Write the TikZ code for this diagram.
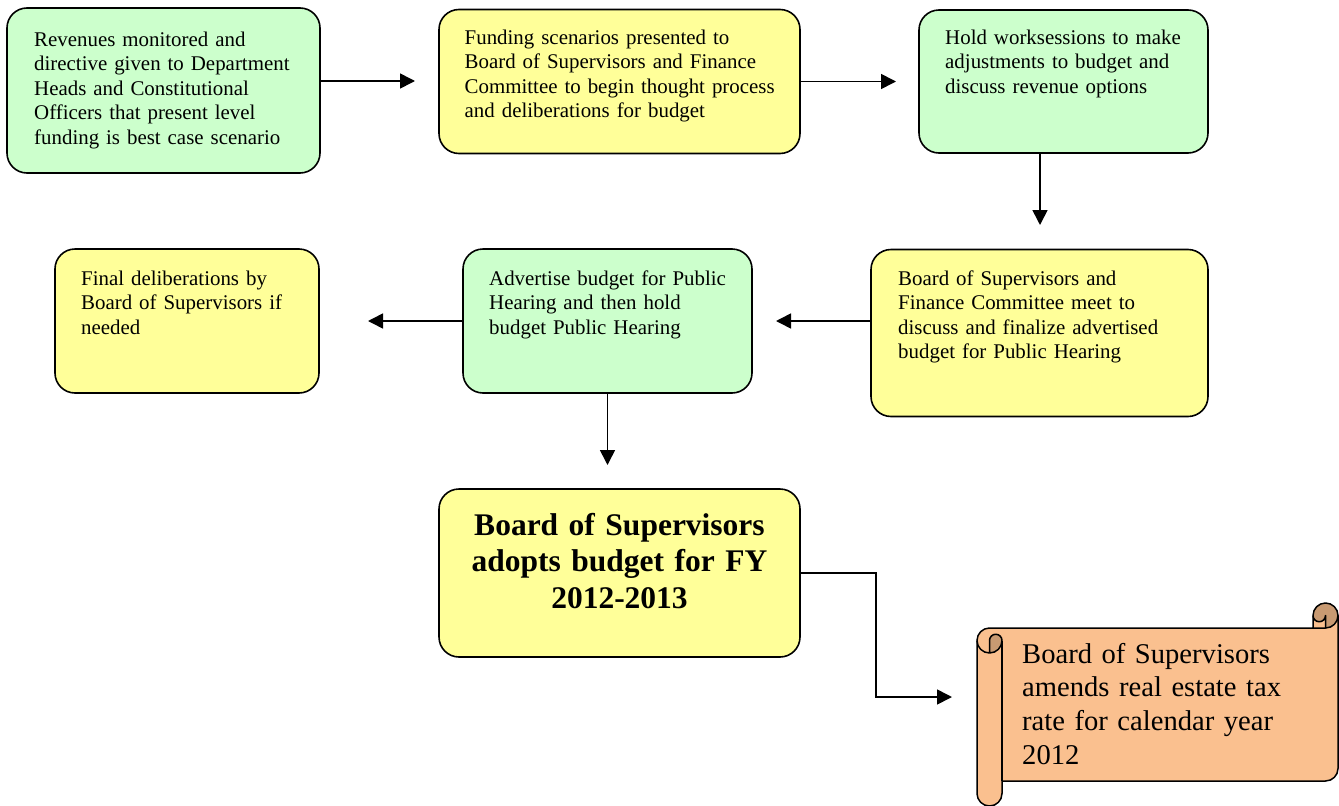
\documentclass[tikz,border=0pt]{standalone}
\usepackage{fontspec}
\setmainfont{Liberation Serif}
\usetikzlibrary{arrows.meta,calc}
\definecolor{boxgreen}{HTML}{CCFFCC}
\definecolor{boxyellow}{HTML}{FFFF99}
\definecolor{scrolltan}{HTML}{FAC08F}
\definecolor{scrolldark}{HTML}{C89A72}
\tikzset{
  stagebox/.style={draw=black, line width=1.6pt, rounded corners=20pt, inner sep=0pt},
  greenbox/.style={stagebox, fill=boxgreen},
  yellowbox/.style={stagebox, fill=boxyellow},
  smalltext/.style={inner sep=0pt, anchor=base west, text width=330pt, align=left,
    font=\fontsize{20.9}{24.5}\selectfont},
  bigtext/.style={inner sep=0pt, anchor=base, text width=340pt, align=center,
    font=\fontsize{31.5}{36.7}\selectfont\bfseries},
  scrolltext/.style={inner sep=0pt, anchor=base west, text width=310pt, align=left,
    font=\fontsize{28.6}{33.6}\selectfont},
  flow/.style={draw=black, line width=1.6pt, -{Triangle[length=15pt,width=15pt]}},
  scrollline/.style={draw=black, line width=1.5pt, line join=round}
}
\begin{document}
\begin{tikzpicture}[x=1pt,y=-1pt]
\useasboundingbox (0,0) rectangle (1339,806);

% boxes
\node[greenbox, minimum width=313pt, minimum height=165pt] (b1) at (163.5,90.5) {};
\node[yellowbox, minimum width=361pt, minimum height=144pt] (b2) at (619.5,81.5) {};
\node[greenbox, minimum width=289pt, minimum height=143pt] (b3) at (1063.5,81.5) {};
\node[yellowbox, minimum width=337pt, minimum height=167pt] (b4) at (1039.5,333) {};
\node[greenbox, minimum width=289pt, minimum height=144pt] (b5) at (607.5,321) {};
\node[yellowbox, minimum width=264pt, minimum height=144pt] (b6) at (187,321) {};
\node[yellowbox, minimum width=361pt, minimum height=168pt] (b7) at (619.5,573) {};

% texts
\node[smalltext] (t1) at (34,46) {Revenues monitored and\\directive given to Department\\Heads and Constitutional\\Officers that present level\\funding is best case scenario};
\node[smalltext] (t2) at (464.5,44) {Funding scenarios presented to\\Board of Supervisors and Finance\\Committee to begin thought process\\and deliberations for budget};
\node[smalltext] (t3) at (945,44) {Hold worksessions to make\\adjustments to budget and\\discuss revenue options};
\node[smalltext] (t4) at (898,285) {Board of Supervisors and\\Finance Committee meet to\\discuss and finalize advertised\\budget for Public Hearing};
\node[smalltext] (t5) at (489,285) {Advertise budget for Public\\Hearing and then hold\\budget Public Hearing};
\node[smalltext] (t6) at (81,285) {Final deliberations by\\Board of Supervisors if\\needed};
\node[bigtext] (t7) at (619.5,535) {Board of Supervisors\\adopts budget for FY\\2012-2013};

% scroll shape
\path[fill=scrolltan] (977,640.5) arc[start angle=180, delta angle=90, radius=12.5]
  -- (1313,628) -- (1313,615.5) arc[start angle=180, delta angle=180, radius=12.5]
  -- (1338,768.5) arc[start angle=0, delta angle=90, radius=12.5]
  -- (1002,781) -- (1002,793.5) arc[start angle=0, delta angle=180, radius=12.5] -- cycle;
\path[fill=scrolldark] (989.5,653) arc[start angle=90, delta angle=-90, radius=12.5]
  arc[start angle=0, delta angle=-180, radius=6.25] -- cycle;
\path[fill=scrolldark] (1325.5,628) arc[start angle=90, delta angle=-270, radius=12.5]
  arc[start angle=180, delta angle=-180, radius=6.25] -- cycle;
\path[scrollline] (977,640.5) arc[start angle=180, delta angle=90, radius=12.5]
  -- (1313,628) -- (1313,615.5) arc[start angle=180, delta angle=180, radius=12.5]
  -- (1338,768.5) arc[start angle=0, delta angle=90, radius=12.5]
  -- (1002,781) -- (1002,793.5) arc[start angle=0, delta angle=180, radius=12.5] -- cycle;
\path[scrollline] (1313,628) -- (1325.5,628) arc[start angle=90, delta angle=-90, radius=12.5];
\path[scrollline] (1325.5,628) -- (1325.5,615.5) arc[start angle=0, delta angle=180, radius=6.25];
\path[scrollline] (989.5,653) -- (989.5,640.5) arc[start angle=180, delta angle=180, radius=6.25]
  arc[start angle=0, delta angle=180, radius=12.5];
\path[scrollline] (1002,640.5) -- (1002,781);
\node[scrolltext] (t8) at (1022,663.3) {Board of Supervisors\\amends real estate tax\\rate for calendar year\\2012};

% connector ends
\coordinate (a12) at (415,81);
\coordinate (a23) at (896,81.5);
\coordinate (a34) at (1040,225);
\coordinate (a45) at (776,321);
\coordinate (a56) at (368,321);
\coordinate (a57) at (607.5,465);
\coordinate (elbow) at (876,697);
\coordinate (a78) at (952,697);

\draw[flow] (a12 -| b1.east) -- (a12);
\draw[flow] (b2.east) -- (a23);
\draw[flow] (a34 |- b3.south) -- (a34);
\draw[flow] (a45 -| b4.west) -- (a45);
\draw[flow] (b5.west) -- (a56);
\draw[flow] (b5.south) -- (a57);
\draw[flow] (b7.east) -| (elbow) -- (a78);
\end{tikzpicture}
\end{document}
